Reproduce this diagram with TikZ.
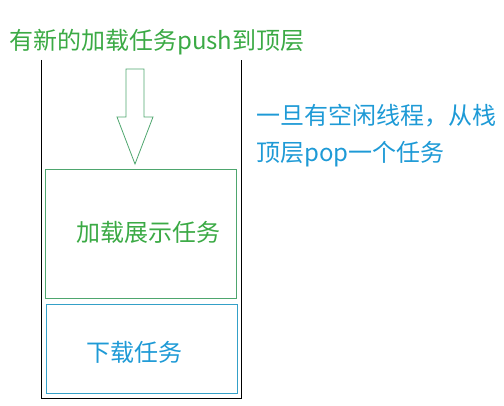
\documentclass[tikz,border=0pt]{standalone}
\usepackage{fontspec}
\setmainfont{Noto Sans CJK SC}
\usetikzlibrary{positioning}
\definecolor{pushgreen}{RGB}{59,170,69}
\definecolor{boxgreen}{RGB}{78,166,110}
\definecolor{popblue}{RGB}{30,154,214}
\definecolor{boxblue}{RGB}{52,160,200}
\tikzset{
	word/.style={inner sep=0pt, font=\fontsize{24}{29}\selectfont},
	taskbox/.style={draw, inner sep=0pt}
}

\begin{document}
\begin{tikzpicture}[x=1pt,y=-1pt]
\useasboundingbox (0,0) rectangle (504,406);
% stack
\draw[black, line width=1pt] (41,60) -- (41,399) -- (241,399) -- (241,60);
% push arrow
\draw[boxgreen, line width=0.8pt] (126,69) -- (144,69) -- (144,117) -- (153,117)
	-- (135,164) -- (117,117) -- (126,117) -- cycle;

\node[taskbox, draw=boxgreen, minimum width=191pt, minimum height=129pt] (load) at (140.5,233.5) {};
\node[word, pushgreen] (loadtxt) at (148.5,232) {加载展示任务};
\node[taskbox, draw=boxblue, minimum width=191pt, minimum height=89pt] (down) at (141.5,348.5) {};
\node[word, popblue] (downtxt) at (134.5,352) {下载任务};

\node[word, pushgreen, anchor=west] (push) at (9,42) {有新的加载任务push到顶层};
\node[word, popblue, anchor=west] (pop1) at (256,116) {一旦有空闲线程，从栈};
\node[word, popblue, anchor=west] (pop2) at (256,154) {顶层pop一个任务};
\end{tikzpicture}
\end{document}
